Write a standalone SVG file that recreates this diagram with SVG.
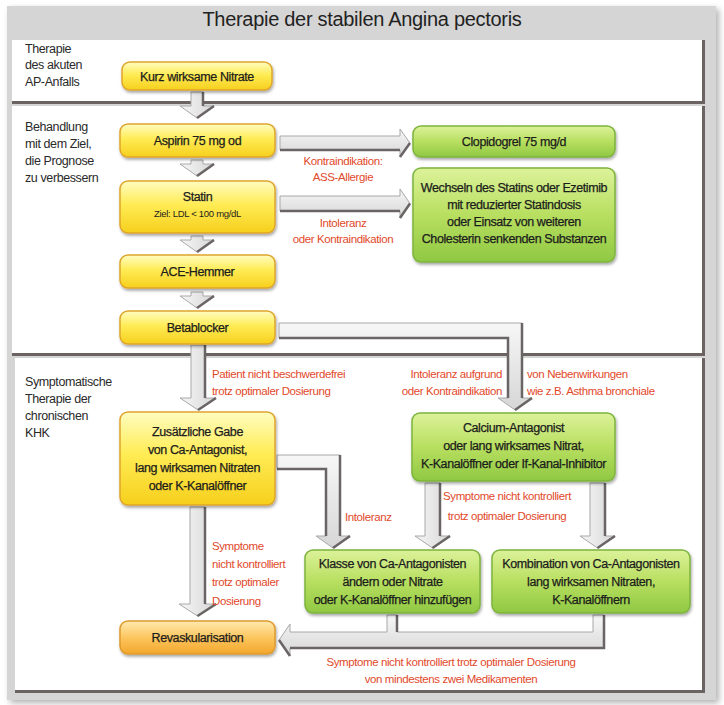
<svg xmlns="http://www.w3.org/2000/svg" width="724" height="705" viewBox="0 0 724 705">
<defs>
<linearGradient id="gy" x1="0" y1="0" x2="0" y2="1"><stop offset="0" stop-color="#fffcc0"/><stop offset="0.45" stop-color="#ffec55"/><stop offset="1" stop-color="#f6cf1c"/></linearGradient>
<linearGradient id="gg" x1="0" y1="0" x2="0" y2="1"><stop offset="0" stop-color="#dcf29a"/><stop offset="0.5" stop-color="#b8df60"/><stop offset="1" stop-color="#8fc843"/></linearGradient>
<linearGradient id="go" x1="0" y1="0" x2="0" y2="1"><stop offset="0" stop-color="#ffeab0"/><stop offset="0.5" stop-color="#fcc65e"/><stop offset="1" stop-color="#f3a62c"/></linearGradient>
<linearGradient id="gh" x1="0" y1="0" x2="0" y2="1"><stop offset="0" stop-color="#f7f7f7"/><stop offset="1" stop-color="#d6d6d6"/></linearGradient>
<linearGradient id="gv" x1="0" y1="0" x2="1" y2="0"><stop offset="0" stop-color="#f7f7f7"/><stop offset="1" stop-color="#d6d6d6"/></linearGradient>
<filter id="sh" x="-10%" y="-10%" width="125%" height="135%"><feDropShadow dx="1" dy="2" stdDeviation="1.5" flood-color="#000" flood-opacity="0.35"/></filter>
<filter id="fs" x="-5%" y="-5%" width="110%" height="110%"><feDropShadow dx="3" dy="3" stdDeviation="3" flood-color="#000" flood-opacity="0.3"/></filter>
</defs>
<style>
text{font-family:"Liberation Sans",Arial,sans-serif}
.t{font-size:12.5px;fill:#1c1c1c;text-anchor:middle;letter-spacing:-0.4px;stroke:#1c1c1c;stroke-width:0.25px}
.s{font-size:9.5px;fill:#1c1c1c;text-anchor:middle;letter-spacing:-0.3px}
.l{font-size:12.5px;fill:#2a2a2a;letter-spacing:-0.4px}
.r{font-size:11.5px;fill:#e2492b;letter-spacing:-0.4px}
.rc{text-anchor:middle}
.re{text-anchor:end}
.y{fill:url(#gy);stroke:#dfa52c;stroke-width:1.5;filter:url(#sh)}
.g{fill:url(#gg);stroke:#7db43c;stroke-width:1.5;filter:url(#sh)}
.o{fill:url(#go);stroke:#de9a2c;stroke-width:1.5;filter:url(#sh)}
.bh{fill:url(#gh);stroke:#a8a8a8;stroke-width:1}
.bv{fill:url(#gv);stroke:#a8a8a8;stroke-width:1}
.e{fill:none;stroke:#6a6464;stroke-width:2.5}
.sec{fill:#fff;stroke:none}
.sd{fill:none;stroke:#6b6262;stroke-width:3}
</style>
<rect x="7" y="6" width="709" height="694" fill="#d5d5d5" filter="url(#fs)"/>
<text x="362" y="26" font-size="20" fill="#222" text-anchor="middle" style="letter-spacing:-0.3px">Therapie der stabilen Angina pectoris</text>
<g id="sections">
<rect class="sec" x="12" y="40" width="691" height="61"/>
<path class="sd" d="M12 102.5 H703.5 V40"/>
<rect class="sec" x="12" y="106" width="691" height="247"/>
<path class="sd" d="M12 354.5 H703.5 V106"/>
<rect class="sec" x="15" y="358" width="688" height="332"/>
<path class="sd" d="M15 691.5 H703.5 V358"/>
</g>
<g id="section-labels">
<text class="l" x="25" y="53">Therapie</text>
<text class="l" x="25" y="69">des akuten</text>
<text class="l" x="25" y="86">AP-Anfalls</text>
<text class="l" x="25" y="131">Behandlung</text>
<text class="l" x="25" y="148">mit dem Ziel,</text>
<text class="l" x="25" y="165">die Prognose</text>
<text class="l" x="25" y="182">zu verbessern</text>
<text class="l" x="25" y="386">Symptomatische</text>
<text class="l" x="25" y="403">Therapie der</text>
<text class="l" x="25" y="420">chronischen</text>
<text class="l" x="25" y="437">KHK</text>
</g>
<g id="connectors">
<path class="bv" d="M191 92 H203 V106 H214 L197 118 L180 106 H191 Z"/>
<path class="e" d="M203 92 V106 M214 106 L197 118"/>
<path class="bv" d="M191 160 H203 V164 H214 L197 176 L180 164 H191 Z"/>
<path class="e" d="M214 164 L197 176"/>
<path class="bv" d="M191 236 H203 V240 H214 L197 252 L180 240 H191 Z"/>
<path class="e" d="M214 240 L197 252"/>
<path class="bv" d="M191 292 H203 V296 H214 L197 308 L180 296 H191 Z"/>
<path class="e" d="M214 296 L197 308"/>
<path class="bh" d="M280 136 H400 V129 L410 143 L400 157 V150 H280 Z"/>
<path class="e" d="M280 150 H400 M400 157 L410 143"/>
<path class="bh" d="M280 196 H400 V189 L410 203.5 L400 218 V211 H280 Z"/>
<path class="e" d="M280 211 H400 M400 218 L410 203.5"/>
<path class="bh" d="M279 323 H522 V398 H532 L515 410 L498 398 H508 V338 H279 Z"/>
<path class="e" d="M279 338 H508 V398 M522 323 V398 M532 398 L515 410"/>
<path class="bv" d="M191 345 H205 V398 H216 L198 410 L180 398 H191 Z"/>
<path class="e" d="M205 345 V398 M216 398 L198 410"/>
<path class="bh" d="M277 455 H340 V536 H350 L333 548 L316 536 H326 V469 H277 Z"/>
<path class="e" d="M277 469 H326 V536 M340 455 V536 M350 536 L333 548"/>
<path class="bv" d="M425 483 H440 V536 H450 L432.5 548 L415 536 H425 Z"/>
<path class="e" d="M440 483 V536 M450 536 L432.5 548"/>
<path class="bv" d="M590 483 H605 V536 H615 L597.5 548 L580 536 H590 Z"/>
<path class="e" d="M605 483 V536 M615 536 L597.5 548"/>
<path class="bv" d="M190 507 H205 V604 H216 L197.5 616 L179 604 H190 Z"/>
<path class="e" d="M205 507 V604 M216 604 L197.5 616"/>
<path class="bh" d="M387 615 H397 V632 H593 V615 H604 V648 H290 V656 L279 640 L290 624 V632 H387 Z"/>
<path class="e" d="M397 615 V632 M604 615 V648 H290 M290 656 L279 640"/>
</g>
<g id="n-kurz"><rect class="y" x="122" y="62" width="150" height="28" rx="8"/><text class="t" x="197" y="80.5">Kurz wirksame Nitrate</text></g>
<g id="n-aspirin"><rect class="y" x="120" y="124" width="155" height="33" rx="8"/><text class="t" x="197.5" y="145">Aspirin 75 mg od</text></g>
<g id="n-statin"><rect class="y" x="120" y="181" width="155" height="52" rx="8"/><text class="t" x="197.5" y="201">Statin</text><text class="s" x="197.5" y="217">Ziel: LDL &lt; 100 mg/dL</text></g>
<g id="n-ace"><rect class="y" x="120" y="255" width="155" height="33" rx="8"/><text class="t" x="197.5" y="276">ACE-Hemmer</text></g>
<g id="n-beta"><rect class="y" x="120" y="311" width="155" height="33" rx="8"/><text class="t" x="197.5" y="332">Betablocker</text></g>
<g id="n-zus"><rect class="y" x="120" y="412" width="155" height="93" rx="8"/><text class="t" x="197.5" y="436">Zusätzliche Gabe</text><text class="t" x="197.5" y="454">von Ca-Antagonist,</text><text class="t" x="197.5" y="472">lang wirksamen Nitraten</text><text class="t" x="197.5" y="490">oder K-Kanalöffner</text></g>
<g id="n-revask"><rect class="o" x="120" y="621" width="155" height="33" rx="8"/><text class="t" x="197.5" y="642">Revaskularisation</text></g>
<g id="n-clopi"><rect class="g" x="413" y="126" width="202" height="31" rx="8"/><text class="t" x="514" y="146">Clopidogrel 75 mg/d</text></g>
<g id="n-wechseln"><rect class="g" x="413" y="168" width="202" height="94" rx="8"/><text class="t" x="514" y="192">Wechseln des Statins oder Ezetimib</text><text class="t" x="514" y="209">mit reduzierter Statindosis</text><text class="t" x="514" y="226">oder Einsatz von weiteren</text><text class="t" x="514" y="243">Cholesterin senkenden Substanzen</text></g>
<g id="n-calcium"><rect class="g" x="412" y="413" width="203" height="68" rx="8"/><text class="t" x="513.5" y="432">Calcium-Antagonist</text><text class="t" x="513.5" y="450">oder lang wirksames Nitrat,</text><text class="t" x="513.5" y="468">K-Kanalöffner oder If-Kanal-Inhibitor</text></g>
<g id="n-klasse"><rect class="g" x="305" y="550" width="175" height="63" rx="8"/><text class="t" x="392.5" y="568">Klasse von Ca-Antagonisten</text><text class="t" x="392.5" y="586">ändern oder Nitrate</text><text class="t" x="392.5" y="604">oder K-Kanalöffner hinzufügen</text></g>
<g id="n-kombi"><rect class="g" x="492" y="550" width="198" height="63" rx="8"/><text class="t" x="591" y="568">Kombination von Ca-Antagonisten</text><text class="t" x="591" y="586">lang wirksamen Nitraten,</text><text class="t" x="591" y="604">K-Kanalöffnern</text></g>
<g id="labels">
<text class="r rc" x="343" y="165">Kontraindikation:</text>
<text class="r rc" x="343" y="181">ASS-Allergie</text>
<text class="r rc" x="343" y="227">Intoleranz</text>
<text class="r rc" x="343" y="243">oder Kontraindikation</text>
<text class="r" x="212" y="378">Patient nicht beschwerdefrei</text>
<text class="r" x="212" y="395">trotz optimaler Dosierung</text>
<text class="r re" x="502" y="378">Intoleranz aufgrund</text>
<text class="r re" x="502" y="395">oder Kontraindikation</text>
<text class="r" x="527" y="378">von Nebenwirkungen</text>
<text class="r" x="527" y="395">wie z.B. Asthma bronchiale</text>
<text class="r" x="345" y="521">Intoleranz</text>
<text class="r rc" x="507" y="500">Symptome nicht kontrolliert</text>
<text class="r rc" x="507" y="520">trotz optimaler Dosierung</text>
<text class="r" x="212" y="550">Symptome</text>
<text class="r" x="212" y="568">nicht kontrolliert</text>
<text class="r" x="212" y="586">trotz optimaler</text>
<text class="r" x="212" y="605">Dosierung</text>
<text class="r rc" x="451" y="666">Symptome nicht kontrolliert trotz optimaler Dosierung</text>
<text class="r rc" x="451" y="683">von mindestens zwei Medikamenten</text>
</g>
</svg>
